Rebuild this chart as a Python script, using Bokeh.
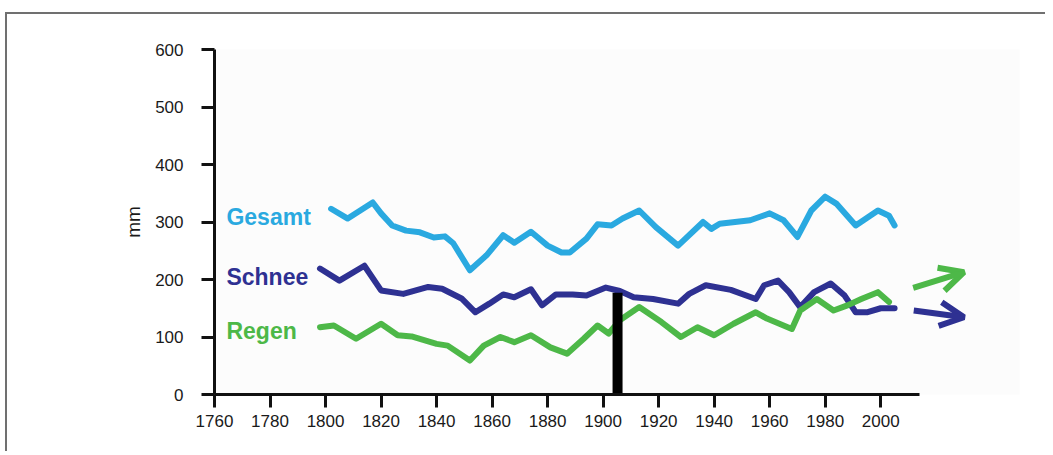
from bokeh.plotting import figure
from bokeh.models import FixedTicker, Label, Arrow, OpenHead, Range1d
from bokeh.embed import file_html
from bokeh.resources import INLINE

# ---------------- data ----------------
gesamt_years = [1802, 1808, 1817, 1820, 1824, 1829, 1834, 1839, 1843, 1846, 1852, 1858,
                1864, 1868, 1874, 1880, 1885, 1888, 1894, 1898, 1903, 1907, 1913, 1919,
                1927, 1936, 1939, 1942, 1953, 1960, 1965, 1970, 1975, 1980, 1984, 1991,
                1999, 2003, 2005]
gesamt_vals = [323, 306, 334, 315, 294, 285, 282, 273, 275, 263, 216, 242,
               277, 264, 283, 259, 247, 247, 271, 296, 294, 306, 320, 291,
               259, 300, 288, 297, 303, 315, 303, 274, 320, 344, 332, 294,
               320, 311, 294]

schnee_years = [1798, 1805, 1814, 1820, 1828, 1837, 1842, 1849, 1854, 1859, 1864, 1868,
                1874, 1878, 1883, 1889, 1894, 1901, 1906, 1911, 1918, 1927, 1931, 1937,
                1946, 1955, 1958, 1963, 1967, 1971, 1976, 1982, 1987, 1991, 1995, 2000,
                2005]
schnee_vals = [219, 198, 224, 181, 175, 187, 184, 167, 143, 158, 174, 169,
               183, 155, 174, 174, 172, 186, 180, 169, 166, 158, 175, 190,
               182, 166, 190, 198, 178, 152, 178, 193, 172, 143, 143, 150,
               150]

regen_years = [1798, 1803, 1811, 1820, 1826, 1831, 1840, 1844, 1852, 1857, 1863, 1868,
               1874, 1881, 1887, 1893, 1898, 1902, 1906, 1913, 1921, 1928, 1934, 1940,
               1947, 1955, 1959, 1968, 1971, 1977, 1983, 1988, 1993, 1999, 2003]
regen_vals = [117, 120, 97, 123, 103, 101, 88, 85, 59, 85, 100, 91,
              103, 82, 71, 97, 120, 106, 129, 152, 126, 100, 117, 103,
              123, 143, 132, 114, 146, 166, 146, 155, 166, 178, 161]

series_names = ["Gesamt", "Schnee", "Regen"]
series_colors = ["#2aa9e0", "#2e3192", "#4db848"]

marker_year = 1905.2
marker_top = 177

x_ticks = list(range(1760, 2001, 20))
y_ticks = [0, 100, 200, 300, 400, 500, 600]

# ---------------- figure ----------------
p = figure(width=1040, height=439, output_backend="svg", toolbar_location=None,
           x_range=Range1d(1760, 2050), y_range=Range1d(0, 600),
           min_border_left=207, min_border_right=28,
           min_border_top=35, min_border_bottom=59)
p.styles = {"border-top": "2px solid #707070", "border-left": "2px solid #707070",
            "margin-top": "12px", "margin-left": "5px"}
p.grid.visible = False
p.outline_line_color = None
p.background_fill_color = "#fcfcfc"
p.border_fill_color = "#ffffff"

font = "Liberation Sans"
for ax in (p.xaxis[0], p.yaxis[0]):
    ax.axis_line_width = 3
    ax.axis_line_color = "#111111"
    ax.major_tick_line_width = 3
    ax.major_tick_line_color = "#111111"
    ax.major_tick_out = 13
    ax.major_tick_in = 0
    ax.minor_tick_line_color = None
    ax.major_label_text_font = font
    ax.major_label_text_font_size = "17px"
    ax.major_label_text_color = "#1a1a1a"

p.xaxis.ticker = FixedTicker(ticks=x_ticks)
p.xaxis.bounds = (1760, 2014)
p.xaxis.major_label_standoff = 7
p.yaxis.ticker = FixedTicker(ticks=y_ticks)
p.yaxis.major_label_standoff = 18
p.yaxis.axis_label = "mm"
p.yaxis.axis_label_text_font = font
p.yaxis.axis_label_text_font_style = "normal"
p.yaxis.axis_label_text_font_size = "19px"
p.yaxis.axis_label_text_color = "#1a1a1a"
p.yaxis.axis_label_standoff = 8

# lines
data = [(gesamt_years, gesamt_vals), (schnee_years, schnee_vals), (regen_years, regen_vals)]
for (xs, ys), c in zip(data, series_colors):
    p.line(xs, ys, line_color=c, line_width=6, line_join="round", line_cap="round")

# marker bar
p.vbar(x=[marker_year], top=[marker_top], bottom=0, width=3.6, fill_color="#000000",
       line_color=None)

# series labels
label_pos = [(1764.3, 308), (1764.3, 205), (1764.3, 111)]
for name, c, (lx, ly) in zip(series_names, series_colors, label_pos):
    p.add_layout(Label(x=lx, y=ly, text=name, text_font=font, text_font_style="bold",
                       text_font_size="23px", text_color=c, text_baseline="alphabetic"))

# trend arrows
p.add_layout(Arrow(x_start=2011.7, y_start=185.6, x_end=2030, y_end=212.7,
                   line_color=series_colors[2], line_width=6,
                   end=OpenHead(size=24, line_color=series_colors[2], line_width=6)))
p.add_layout(Arrow(x_start=2011.9, y_start=146, x_end=2030, y_end=134.4,
                   line_color=series_colors[1], line_width=6,
                   end=OpenHead(size=24, line_color=series_colors[1], line_width=6)))

open("out.html", "w").write(file_html(p, INLINE))
